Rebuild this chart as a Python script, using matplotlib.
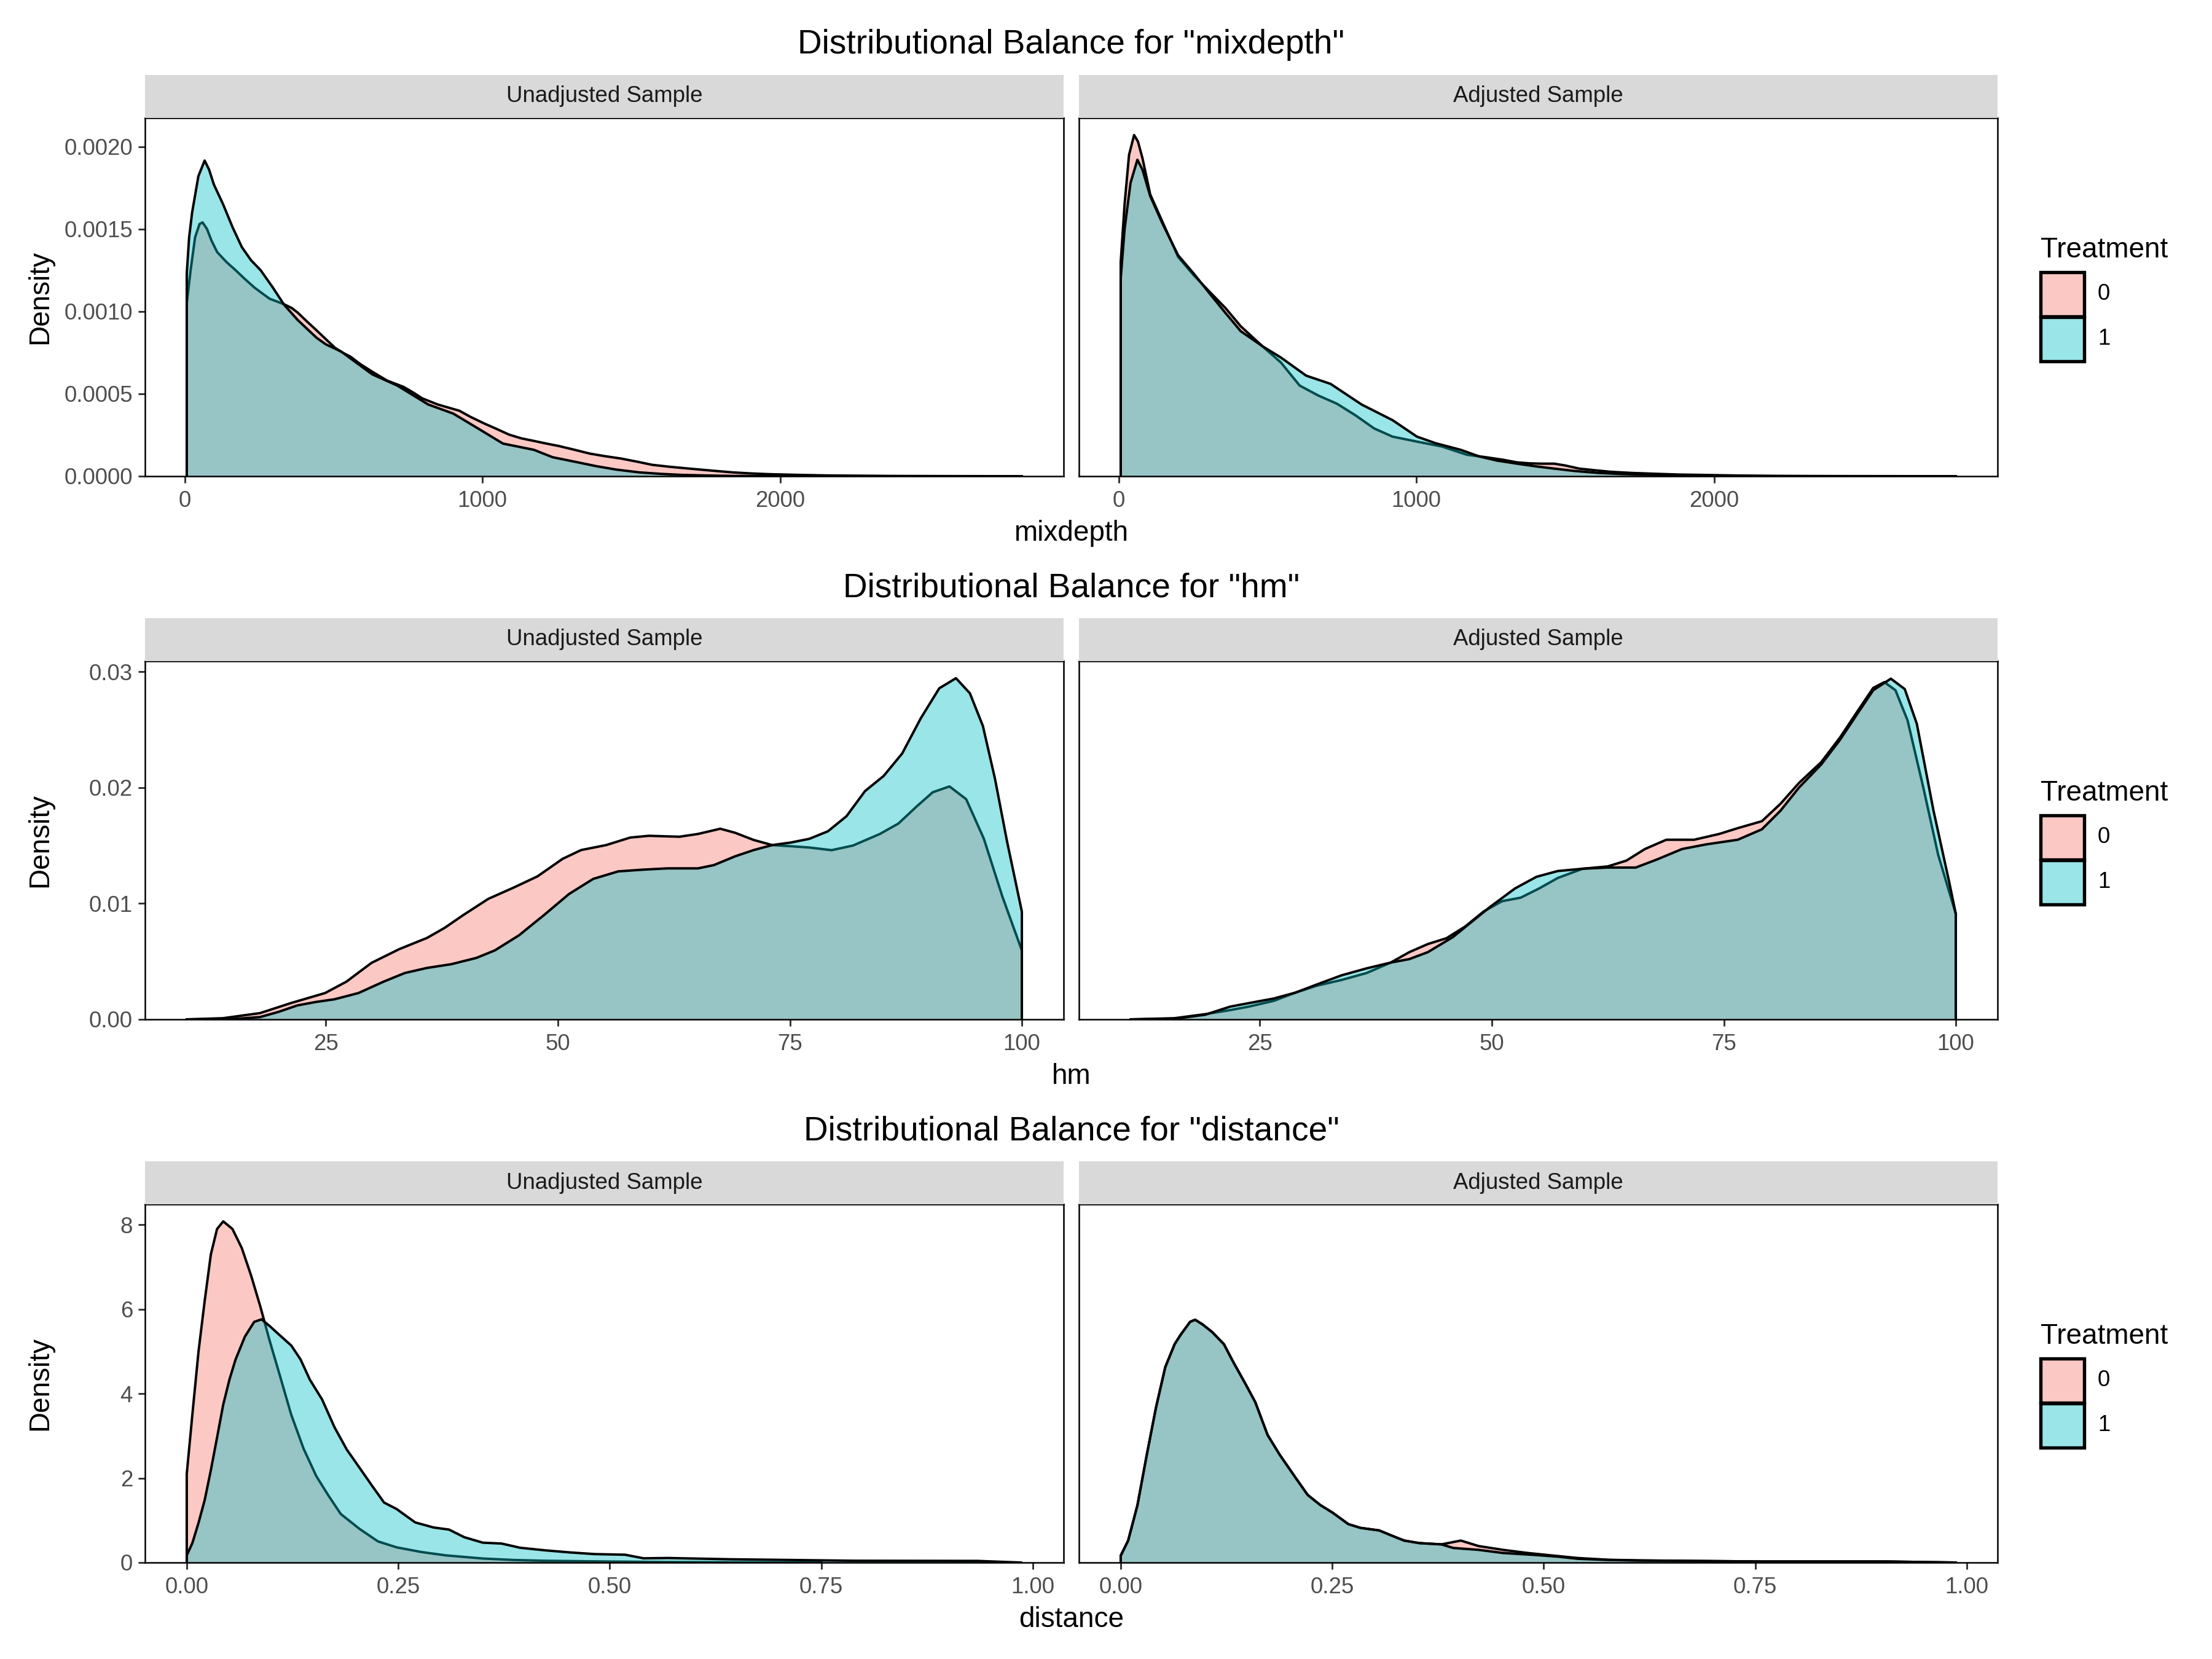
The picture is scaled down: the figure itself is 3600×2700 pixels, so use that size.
import numpy as np
import matplotlib
matplotlib.use("Agg")
import matplotlib.pyplot as plt
from matplotlib.patches import Rectangle

plt.rcParams['font.family'] = ['Liberation Sans', 'DejaVu Sans']

# ---------------- data ----------------
variables = ["mixdepth", "hm", "distance"]
facets = ["Unadjusted Sample", "Adjusted Sample"]
treat_labels = ["0", "1"]

# mixdepth
mix_un_0_x = [7, 20, 35, 50, 60, 75, 90, 109, 140, 171, 200, 234, 260, 286, 310, 334, 360, 380, 410, 443,
              475, 505, 530, 557, 590, 630, 680, 735, 770, 797, 850, 923, 960, 1006, 1050, 1090, 1130, 1173,
              1215, 1257, 1310, 1361, 1410, 1466, 1520, 1570, 1630, 1695, 1770, 1841, 1900, 1967, 2060, 2155,
              2260, 2363, 2500, 2650, 2812]
mix_un_0_y = [0.00105, 0.00125, 0.00145, 0.00153, 0.00154, 0.00150, 0.00143, 0.00136, 0.00130, 0.00125,
              0.00120, 0.001145, 0.00111, 0.001076, 0.00106, 0.001043, 0.00102, 0.000992, 0.00094, 0.000885,
              0.00083, 0.000779, 0.00075, 0.000725, 0.00068, 0.000634, 0.00058, 0.000542, 0.000505, 0.000473,
              0.000435, 0.000397, 0.00036, 0.00032, 0.000285, 0.000252, 0.00023, 0.000214, 0.000198, 0.000183,
              0.00016, 0.000137, 0.000122, 0.000107, 0.000088, 0.000069, 0.000057, 0.000046, 0.000034,
              0.000023, 0.000017, 0.000012, 0.000008, 0.0000046, 0.000003, 0.0000015, 0.0000008, 0.0000003, 0.0]
mix_un_1_x = [7, 15, 25, 46, 67, 82, 98, 129, 161, 192, 223, 255, 296, 334, 380, 443, 474, 526, 568, 630,
              714, 818, 902, 985, 1069, 1173, 1236, 1310, 1382, 1450, 1528, 1600, 1674, 1760, 1841, 2000, 2200]
mix_un_1_y = [0.00123, 0.00145, 0.00160, 0.00182, 0.001915, 0.00186, 0.00177, 0.00165, 0.00151, 0.00139,
              0.00131, 0.00125, 0.001145, 0.00104, 0.000947, 0.00084, 0.00080, 0.000756, 0.00070, 0.000618,
              0.00055, 0.000435, 0.00038, 0.00029, 0.000198, 0.00016, 0.000115, 0.000088, 0.000061, 0.00004,
              0.000023, 0.000014, 0.0000076, 0.000004, 0.0000015, 0.0000005, 0.0]
mix_adj_0_x = [7, 20, 35, 52, 65, 80, 106, 148, 200, 252, 305, 359, 410, 482, 545, 608, 670, 733, 795, 858,
               920, 1002, 1086, 1170, 1234, 1290, 1338, 1380, 1420, 1463, 1500, 1547, 1600, 1651, 1720, 1797,
               1880, 1964, 2080, 2200, 2330, 2465, 2650, 2812]
mix_adj_0_y = [0.00130, 0.00165, 0.00195, 0.00207, 0.00203, 0.00193, 0.00171, 0.00154, 0.00133, 0.00122,
               0.00112, 0.00102, 0.00091, 0.00079, 0.00069, 0.00055, 0.00049, 0.00044, 0.00037, 0.00029,
               0.00024, 0.00021, 0.00018, 0.00013, 0.000115, 0.0001, 0.000084, 0.000078, 0.000076, 0.000076,
               0.000065, 0.000046, 0.000036, 0.000027, 0.00002, 0.000015, 0.00001, 0.0000076, 0.000004,
               0.000002, 0.000001, 0.0000005, 0.0000002, 0.0]
mix_adj_1_x = [7, 20, 40, 63, 80, 106, 148, 200, 252, 305, 359, 410, 482, 545, 630, 712, 816, 920, 1002,
               1065, 1149, 1211, 1270, 1338, 1400, 1463, 1530, 1610, 1680, 1756, 1850, 1964, 2100, 2200]
mix_adj_1_y = [0.00120, 0.00150, 0.00178, 0.00192, 0.00186, 0.00170, 0.00153, 0.00134, 0.00123, 0.00111,
               0.00099, 0.00088, 0.00079, 0.00072, 0.00061, 0.00056, 0.000435, 0.00034, 0.00024, 0.00020,
               0.00016, 0.00012, 0.000095, 0.000076, 0.00006, 0.000046, 0.000032, 0.00002, 0.000014,
               0.00001, 0.000006, 0.000003, 0.000001, 0.0]

# hm
hm_un_0_x = [10, 13.9, 17.9, 21.2, 24.9, 27.2, 29.9, 32.9, 35.9, 37.8, 39.8, 42.5, 45.2, 47.8, 50.5, 52.5,
             55.2, 57.8, 59.8, 63.1, 65.1, 67.5, 69.1, 71.1, 73.1, 75.1, 77.1, 79.5, 81.8, 84.7, 86.7, 88.7,
             90.4, 92.2, 94.0, 95.9, 97.9, 100]
hm_un_0_y = [0.0, 0.0001, 0.00054, 0.0014, 0.00227, 0.00325, 0.00487, 0.00606, 0.00703, 0.0079, 0.009,
             0.0104, 0.01136, 0.01234, 0.01385, 0.01461, 0.01504, 0.01569, 0.01584, 0.01576, 0.016, 0.01645,
             0.0161, 0.01548, 0.01504, 0.01494, 0.01483, 0.0146, 0.0150, 0.0160, 0.0169, 0.0184, 0.0196,
             0.0201, 0.0190, 0.0156, 0.0106, 0.00595]
hm_un_1_x = [10, 15.2, 17.9, 19.9, 21.9, 23.9, 25.9, 28.5, 31.2, 33.5, 35.9, 38.5, 41.2, 43.2, 45.8, 48.5,
             51.2, 53.8, 56.5, 59.2, 61.8, 65.1, 66.8, 69.1, 71.1, 73.1, 75.1, 77.1, 79.1, 81.1, 83.1, 85.1,
             87.1, 89.1, 91.1, 92.9, 94.4, 95.8, 97.1, 98.4, 100]
hm_un_1_y = [0.0, 0.00004, 0.0002, 0.00065, 0.0012, 0.0015, 0.00173, 0.00227, 0.00325, 0.004, 0.00444,
             0.00476, 0.0053, 0.00595, 0.00725, 0.009, 0.01082, 0.01212, 0.01277, 0.01292, 0.01303, 0.01303,
             0.01331, 0.01407, 0.01461, 0.01504, 0.01526, 0.01558, 0.01623, 0.01753, 0.0197, 0.021, 0.02294,
             0.02597, 0.02857, 0.02944, 0.02814, 0.02532, 0.02078, 0.01537, 0.0093]
hm_adj_0_x = [11.1, 15.8, 19.1, 21.8, 23.8, 26.5, 28.8, 31.1, 33.8, 36.5, 39.1, 41.1, 43.1, 45.1, 47.1,
              49.1, 51.1, 53.1, 55.1, 57.1, 59.8, 62.5, 64.5, 66.5, 68.8, 71.8, 74.5, 76.5, 79.1, 81.1, 83.1,
              85.5, 87.5, 89.5, 91.1, 92.3, 93.5, 94.8, 96.5, 98.1, 100]
hm_adj_0_y = [0.0, 0.0001, 0.00045, 0.0008, 0.0011, 0.0016, 0.0023, 0.0029, 0.0034, 0.0040, 0.0049, 0.0058,
              0.0065, 0.0070, 0.0080, 0.0093, 0.0102, 0.0105, 0.0113, 0.0122, 0.0130, 0.0132, 0.0137, 0.0147,
              0.0155, 0.0155, 0.0160, 0.0165, 0.0171, 0.0186, 0.0204, 0.0222, 0.0243, 0.0267, 0.0286, 0.0291,
              0.0284, 0.0258, 0.0200, 0.0142, 0.0091]
hm_adj_1_x = [11.1, 15.8, 19.1, 21.8, 23.8, 26.5, 28.8, 31.1, 33.8, 36.5, 39.1, 41.1, 43.1, 45.8, 47.8,
              49.8, 52.5, 54.8, 57.1, 59.8, 62.5, 65.5, 67.8, 70.5, 73.1, 76.5, 79.1, 81.1, 83.1, 85.5, 87.5,
              89.5, 91.1, 93.0, 94.5, 95.8, 97.6, 99.3, 100]
hm_adj_1_y = [0.0, 0.00005, 0.0004, 0.0011, 0.0014, 0.0018, 0.0023, 0.0030, 0.0038, 0.0044, 0.0049, 0.0052,
              0.0058, 0.0071, 0.0084, 0.0097, 0.0113, 0.0123, 0.0128, 0.0130, 0.0131, 0.0131, 0.0138, 0.0147,
              0.0151, 0.0155, 0.0164, 0.0180, 0.0200, 0.0220, 0.0241, 0.0265, 0.0284, 0.0294, 0.0285, 0.0255,
              0.0180, 0.0118, 0.0091]

# distance
dist_un_0_x = [0.0, 0.0066, 0.0139, 0.0212, 0.0285, 0.0358, 0.0431, 0.054, 0.065, 0.076, 0.087, 0.098,
               0.109, 0.1235, 0.138, 0.153, 0.167, 0.182, 0.204, 0.226, 0.248, 0.277, 0.306, 0.35, 0.387,
               0.423, 0.496, 0.569, 0.643, 0.75]
dist_un_0_y = [2.1, 3.5, 5.0, 6.2, 7.3, 7.9, 8.08, 7.9, 7.45, 6.8, 6.06, 5.25, 4.5, 3.5, 2.7, 2.05, 1.6,
               1.15, 0.8, 0.5, 0.36, 0.25, 0.17, 0.095, 0.06, 0.042, 0.024, 0.012, 0.006, 0.0]
dist_un_1_x = [0.0, 0.0066, 0.0139, 0.0212, 0.0285, 0.0358, 0.0431, 0.0504, 0.0577, 0.0687, 0.0797, 0.0884,
               0.098, 0.109, 0.1235, 0.1345, 0.1455, 0.16, 0.1747, 0.1893, 0.204, 0.2186, 0.2332, 0.2478,
               0.27, 0.2917, 0.31, 0.328, 0.35, 0.372, 0.394, 0.423, 0.4525, 0.482, 0.518, 0.54, 0.569, 0.643,
               0.716, 0.789, 0.862, 0.935, 0.986]
dist_un_1_y = [0.17, 0.46, 0.94, 1.48, 2.19, 2.96, 3.74, 4.33, 4.81, 5.35, 5.7, 5.76, 5.6, 5.4, 5.14, 4.81,
               4.33, 3.86, 3.2, 2.67, 2.25, 1.83, 1.42, 1.27, 0.95, 0.83, 0.78, 0.6, 0.47, 0.45, 0.35, 0.29,
               0.24, 0.2, 0.185, 0.1, 0.107, 0.077, 0.06, 0.042, 0.04, 0.038, 0.0]
dist_adj_0_x = [0.0, 0.0088, 0.0198, 0.0308, 0.0418, 0.0527, 0.0637, 0.071, 0.082, 0.0879, 0.0967, 0.108,
                0.122, 0.133, 0.148, 0.159, 0.1736, 0.188, 0.2066, 0.221, 0.236, 0.2505, 0.269, 0.2835,
                0.3055, 0.32, 0.335, 0.353, 0.379, 0.402, 0.423, 0.452, 0.481, 0.51, 0.54, 0.577, 0.613, 0.686,
                0.76, 0.833, 0.906, 0.987]
dist_adj_0_y = [0.15, 0.52, 1.36, 2.55, 3.68, 4.63, 5.17, 5.4, 5.7, 5.75, 5.64, 5.46, 5.17, 4.75, 4.21, 3.8,
                3.02, 2.55, 2.01, 1.6, 1.36, 1.18, 0.91, 0.82, 0.76, 0.64, 0.52, 0.46, 0.43, 0.52, 0.39, 0.3,
                0.226, 0.167, 0.107, 0.065, 0.05, 0.036, 0.024, 0.024, 0.024, 0.0]
dist_adj_1_x = [0.0, 0.0088, 0.0198, 0.0308, 0.0418, 0.0527, 0.0637, 0.071, 0.082, 0.0879, 0.0967, 0.108,
                0.122, 0.133, 0.148, 0.159, 0.1736, 0.188, 0.2066, 0.221, 0.236, 0.2505, 0.269, 0.2835,
                0.3055, 0.32, 0.335, 0.353, 0.379, 0.393, 0.423, 0.452, 0.489, 0.518, 0.54, 0.577, 0.613,
                0.686, 0.76, 0.833, 0.906, 0.987]
dist_adj_1_y = [0.17, 0.52, 1.36, 2.55, 3.68, 4.63, 5.17, 5.4, 5.7, 5.75, 5.64, 5.46, 5.17, 4.75, 4.21, 3.8,
                3.02, 2.55, 2.01, 1.6, 1.36, 1.18, 0.91, 0.82, 0.76, 0.64, 0.52, 0.46, 0.43, 0.345, 0.3,
                0.226, 0.18, 0.137, 0.089, 0.06, 0.048, 0.036, 0.024, 0.024, 0.024, 0.0]

# ticks
mix_xticks = [0, 1000, 2000]
mix_xticklabels = ["0", "1000", "2000"]
mix_yticks = [0.0, 0.0005, 0.0010, 0.0015, 0.0020]
mix_yticklabels = ["0.0000", "0.0005", "0.0010", "0.0015", "0.0020"]
hm_xticks = [25, 50, 75, 100]
hm_xticklabels = ["25", "50", "75", "100"]
hm_yticks = [0.0, 0.01, 0.02, 0.03]
hm_yticklabels = ["0.00", "0.01", "0.02", "0.03"]
dist_xticks = [0.0, 0.25, 0.5, 0.75, 1.0]
dist_xticklabels = ["0.00", "0.25", "0.50", "0.75", "1.00"]
dist_yticks = [0, 2, 4, 6, 8]
dist_yticklabels = ["0", "2", "4", "6", "8"]

rows = [
    dict(var="mixdepth",
         curves=[[(mix_un_0_x, mix_un_0_y), (mix_un_1_x, mix_un_1_y)],
                 [(mix_adj_0_x, mix_adj_0_y), (mix_adj_1_x, mix_adj_1_y)]],
         xt=mix_xticks, xtl=mix_xticklabels, yt=mix_yticks, ytl=mix_yticklabels),
    dict(var="hm",
         curves=[[(hm_un_0_x, hm_un_0_y), (hm_un_1_x, hm_un_1_y)],
                 [(hm_adj_0_x, hm_adj_0_y), (hm_adj_1_x, hm_adj_1_y)]],
         xt=hm_xticks, xtl=hm_xticklabels, yt=hm_yticks, ytl=hm_yticklabels),
    dict(var="distance",
         curves=[[(dist_un_0_x, dist_un_0_y), (dist_un_1_x, dist_un_1_y)],
                 [(dist_adj_0_x, dist_adj_0_y), (dist_adj_1_x, dist_adj_1_y)]],
         xt=dist_xticks, xtl=dist_xticklabels, yt=dist_yticks, ytl=dist_yticklabels),
]

# ---------------- style ----------------
fill_colors = ["#F8766D", "#00BFC4"]
ALPHA = 0.4
W, H = 3600, 2700
fig = plt.figure(figsize=(12, 9), dpi=300)


def fx(px):
    return px / W


def fy(py):
    return 1 - py / H


ROW_STEP = 884
PANEL_TOP, PANEL_BOT = 192, 775
STRIP_TOP = 122
PANEL_X = [(236, 1731), (1756, 3251)]
TICK_COL = "#333333"
LAB_COL = "#4D4D4D"

for r, row in enumerate(rows):
    off = r * ROW_STEP
    allx = np.concatenate([np.asarray(c[0]) for f in row["curves"] for c in f])
    ally = np.concatenate([np.asarray(c[1]) for f in row["curves"] for c in f])
    xmin, xmax = allx.min(), allx.max()
    xr = xmax - xmin
    ymax = ally.max() * 1.05
    for j, (x0, x1) in enumerate(PANEL_X):
        ax = fig.add_axes([fx(x0), fy(PANEL_BOT + off), fx(x1 - x0), (PANEL_BOT - PANEL_TOP) / H])
        for k, (cx, cy) in enumerate(row["curves"][j]):
            cx = np.asarray(cx, float)
            cy = np.asarray(cy, float)
            ax.fill_between(cx, cy, 0, color=fill_colors[k], alpha=ALPHA, linewidth=0, zorder=2 + 2 * k)
            px = np.concatenate([[cx[0]], cx, [cx[-1]]])
            py = np.concatenate([[0], cy, [0]])
            ax.plot(px, py, color="black", lw=0.95, zorder=3 + 2 * k, solid_joinstyle="round")
        ax.set_xlim(xmin - 0.05 * xr, xmax + 0.05 * xr)
        ax.set_ylim(0, ymax)
        ax.set_xticks(row["xt"])
        ax.set_xticklabels(row["xtl"])
        ax.set_yticks(row["yt"])
        if j == 0:
            ax.set_yticklabels(row["ytl"])
            ax.tick_params(axis="y", length=2.6, width=0.7, color=TICK_COL, pad=2.2,
                           labelsize=8.8, labelcolor=LAB_COL)
        else:
            ax.tick_params(axis="y", left=False, labelleft=False)
        ax.tick_params(axis="x", length=2.6, width=0.7, color=TICK_COL, pad=3.0,
                       labelsize=8.8, labelcolor=LAB_COL)
        for s in ax.spines.values():
            s.set_color("black")
            s.set_linewidth(0.6)
            s.set_zorder(10)
        # strip
        sax = fig.add_axes([fx(x0), fy(PANEL_TOP + off), fx(x1 - x0), (PANEL_TOP - STRIP_TOP) / H])
        sax.set_facecolor("#D9D9D9")
        sax.set_xticks([])
        sax.set_yticks([])
        for s in sax.spines.values():
            s.set_visible(False)
        sax.text(0.5, 0.5, facets[j], ha="center", va="center", fontsize=8.8, color="#1A1A1A",
                 transform=sax.transAxes)
    # title, axis labels
    cx_mid = fx((PANEL_X[0][0] + PANEL_X[1][1]) / 2)
    fig.text(cx_mid, fy(87 + off), 'Distributional Balance for "%s"' % row["var"], ha="center",
             va="baseline", fontsize=13.2, color="black")
    fig.text(cx_mid, fy(880 + off), row["var"], ha="center", va="baseline", fontsize=11, color="black")
    fig.text(fx(65), fy((PANEL_TOP + PANEL_BOT) / 2 + off), "Density", ha="center", va="center",
             rotation=90, fontsize=11, color="black")
    # legend
    fig.text(fx(3321), fy(419 + off), "Treatment", ha="left", va="baseline", fontsize=11, color="black")
    for k, lab in enumerate(treat_labels):
        top = 443 + off + 72.5 * k
        fig.add_artist(Rectangle((fx(3321), fy(top + 72)), fx(71), 72 / H, transform=fig.transFigure,
                                 facecolor="white", edgecolor="none"))
        fig.add_artist(Rectangle((fx(3321), fy(top + 72)), fx(71), 72 / H, transform=fig.transFigure,
                                 facecolor=fill_colors[k], alpha=ALPHA, edgecolor="none"))
        fig.add_artist(Rectangle((fx(3321), fy(top + 72)), fx(71), 72 / H, transform=fig.transFigure,
                                 facecolor="none", edgecolor="black", lw=1.3))
        fig.text(fx(3414), fy(top + 36), lab, ha="left", va="center", fontsize=8.8, color="black")

fig.savefig("out.png", dpi=300, facecolor="white")
